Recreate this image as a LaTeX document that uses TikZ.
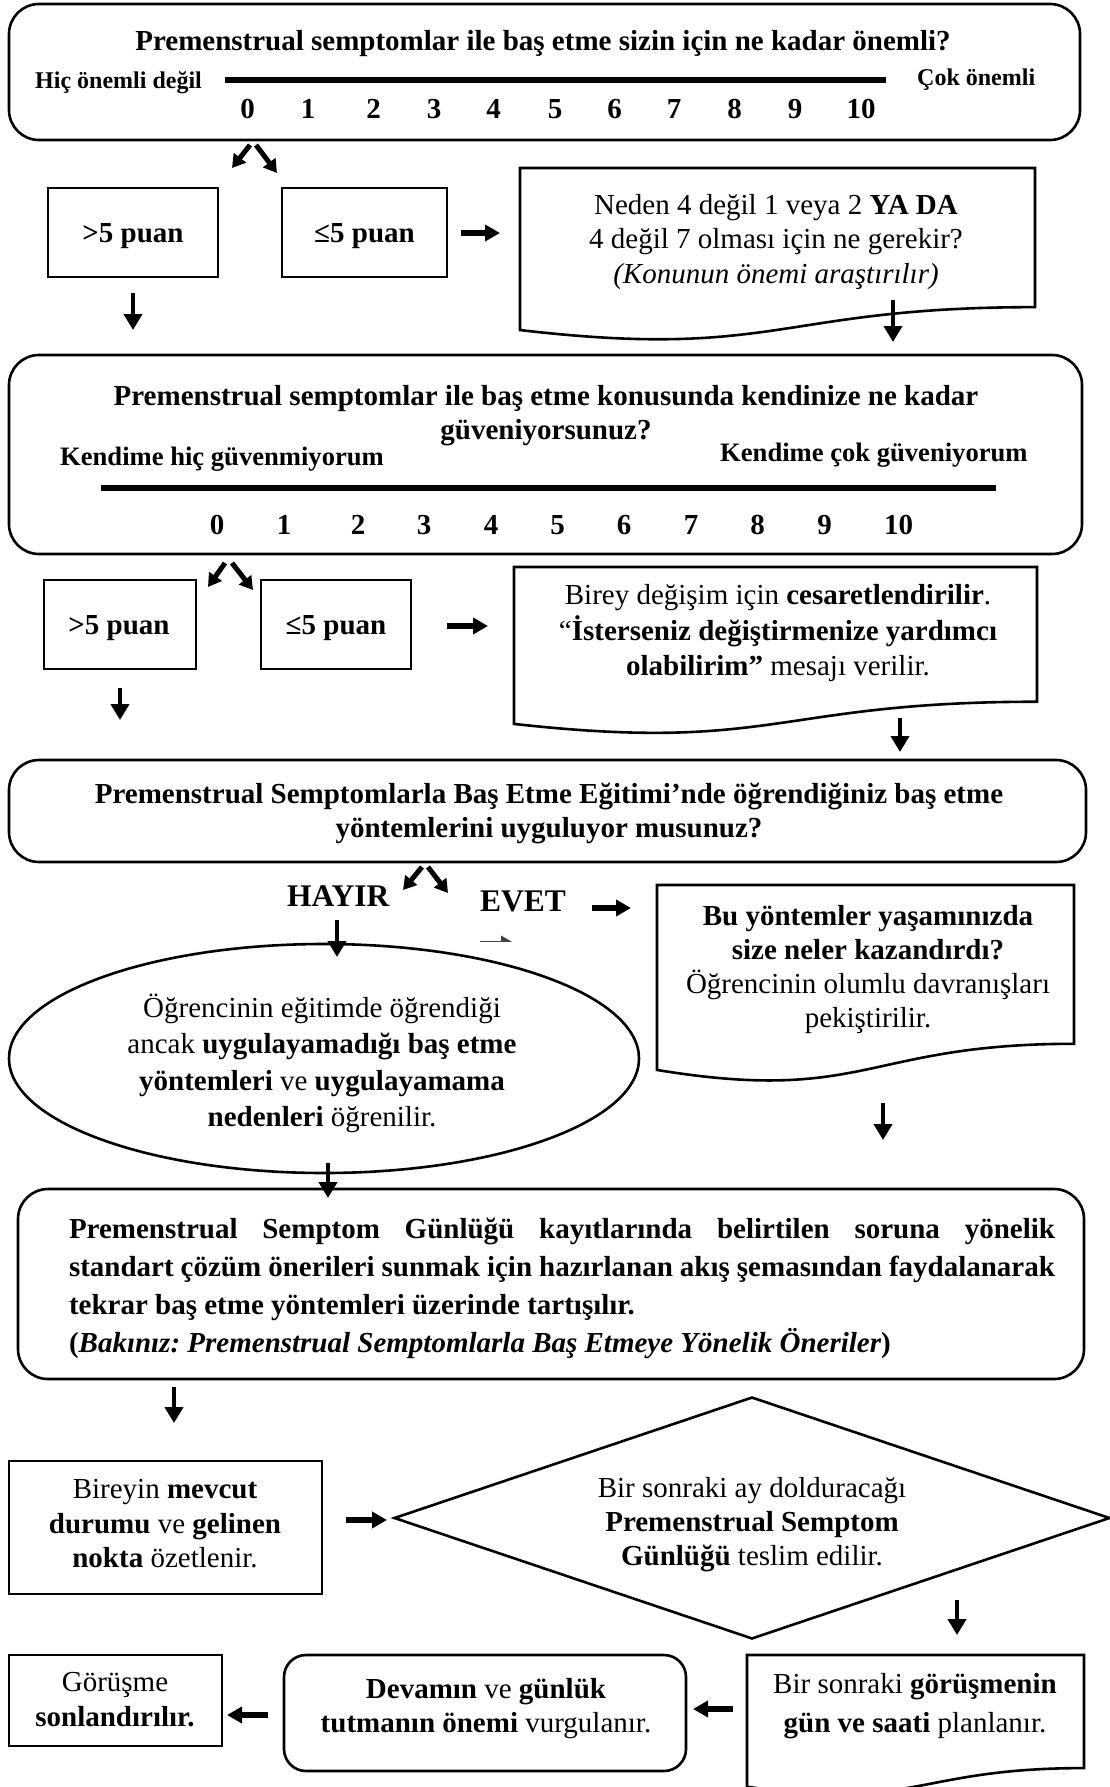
\documentclass[tikz,border=0pt]{standalone}
\usepackage{fontspec}
\setmainfont{Liberation Serif}
\usetikzlibrary{arrows.meta,shapes.geometric}

% flowchart "document" outline: left, right, top, height
\newcommand\docshape[4]{%
  \draw[docline] (#1,#3) -- (#2,#3) -- (#2,{#3+0.802*#4})
    .. controls ({(#1+#2)/2},{#3+0.802*#4}) and ({(#1+#2)/2},{#3+1.107*#4})
    .. (#1,{#3+0.934*#4}) -- cycle;}

% short free-standing arrow between two named coordinates
\newcommand\freearrow[4]{%
  \coordinate (#2-s) at #3; \coordinate (#2-e) at #4;
  \draw[#1] (#2-s) -- (#2-e);}

% interword spacing that can stretch for justified lines
\newcommand\justspacing{\frenchspacing\spaceskip=0.25em plus 1.5em minus 0.1em\relax}

\begin{document}
\begin{tikzpicture}[x=1pt, y=-1pt,
  txt/.style={inner sep=0pt, align=center, font=\fontsize{29}{#1}\selectfont},
  txt/.default=34.5,
  lbl/.style={inner sep=0pt, font=\fontsize{29}{34.5}\selectfont\bfseries},
  endlbl/.style={inner sep=0pt, font=\fontsize{#1}{30}\selectfont\bfseries},
  bigword/.style={inner sep=0pt, font=\fontsize{31.5}{36}\selectfont\bfseries},
  roundbox/.style={draw, line width=2.6pt, rounded corners=#1, inner sep=0pt},
  roundbox/.default=30pt,
  sqbox/.style={draw, line width=2.8pt, inner sep=0pt},
  docline/.style={line width=2.6pt, line join=miter},
  scaleline/.style={line width=6.5pt},
  harr/.style={line width=5.5pt, -{Triangle[length=15pt,width=16pt]}},
  varr/.style={line width=4.5pt, -{Triangle[length=16pt,width=18pt]}},
  darr/.style={line width=5pt, -{Triangle[length=13pt,width=15pt]}},
]
\useasboundingbox (0,0) rectangle (1110,1787);
\fill[white] (0,0) rectangle (1110,1787);
\clip (0,0) rectangle (1110,1787);

% ---------- importance scale ----------
\node[roundbox, minimum width=1071pt, minimum height=136pt] (q1) at (544.5,72) {};
\node[lbl, anchor=base] (q1t) at (543,51) {Premenstrual semptomlar ile baş etme sizin için ne kadar önemli?};
\node[endlbl=24, anchor=base west] (q1l) at (35,89) {Hiç önemli değil};
\node[endlbl=24, anchor=base west] (q1r) at (917,86) {Çok önemli};
\coordinate (s1a) at (225,80); \coordinate (s1b) at (886,80);
\draw[scaleline] (s1a) -- (s1b);
\foreach \v/\x in {0/247.5,1/308,2/373.5,3/434,4/493.5,5/555,6/614.5,7/674,8/734.5,9/795,10/861}
  \node[lbl, anchor=base] (sa\v) at (\x,119) {\v};

\node[sqbox, minimum width=170pt, minimum height=89pt] (a1) at (133,232.5) {};
\node[lbl, anchor=base] (a1t) at (133,243) {>5 puan};
\node[sqbox, minimum width=165pt, minimum height=89pt] (b1) at (364.5,232.5) {};
\node[lbl, anchor=base] (b1t) at (364.5,243) {≤5 puan};

\docshape{520}{1035}{168}{173.5}
\node[txt] (d1t) at (776,242) {\strut Neden 4 değil 1 veya 2 \textbf{YA DA}\\
  \strut 4 değil 7 olması için ne gerekir?\\
  \strut\textit{(Konunun önemi araştırılır)}};

% ---------- confidence scale ----------
\node[roundbox, minimum width=1073pt, minimum height=199pt] (q2) at (545.5,454.5) {};
\node[txt, font=\fontsize{29}{34.5}\selectfont\bfseries] (q2t) at (546,415.5)
  {\strut Premenstrual semptomlar ile baş etme konusunda kendinize ne kadar\\
   \strut güveniyorsunuz?};
\node[endlbl=26.6, anchor=base west] (q2l) at (60,465) {Kendime hiç güvenmiyorum};
\node[endlbl=26.6, anchor=base west] (q2r) at (720,461) {Kendime çok güveniyorum};
\coordinate (s2a) at (101,488); \coordinate (s2b) at (996,488);
\draw[scaleline] (s2a) -- (s2b);
\foreach \v/\x in {0/217,1/284,2/358,3/424,4/491,5/557.5,6/624,7/691,8/757.5,9/824.5,10/898.5}
  \node[lbl, anchor=base] (sb\v) at (\x,534) {\v};

\node[sqbox, minimum width=152pt, minimum height=89pt] (a2) at (120,624.5) {};
\node[lbl, anchor=base] (a2t) at (119,634) {>5 puan};
\node[sqbox, minimum width=150pt, minimum height=89pt] (b2) at (336,624.5) {};
\node[lbl, anchor=base] (b2t) at (336,634) {≤5 puan};

\docshape{514}{1037}{567}{168}
\node[txt] (d2t) at (778,633) {\strut Birey değişim için \textbf{cesaretlendirilir}.\\
  \strut “\textbf{İsterseniz değiştirmenize yardımcı}\\
  \strut\textbf{olabilirim”} mesajı verilir.};

% ---------- practice question ----------
\node[roundbox, minimum width=1077pt, minimum height=102pt] (q3) at (547.5,811) {};
\node[txt, font=\fontsize{29}{34}\selectfont\bfseries] (q3t) at (549,813.5)
  {\strut Premenstrual Semptomlarla Baş Etme Eğitimi’nde öğrendiğiniz baş etme\\
   \strut yöntemlerini uyguluyor musunuz?};
\node[bigword, anchor=base west] (no) at (287,906) {HAYIR};
\node[bigword, anchor=base west] (yes) at (480,911) {EVET};

% faint arrow fragment under EVET
\begin{scope}
  \clip (470,925) rectangle (530,941);
  \freearrow{black!75, line width=4pt, -{Triangle[length=13pt,width=14pt]}}{frag}{(480,943)}{(514,943)}
\end{scope}

\node[draw, ellipse, line width=2.6pt, minimum width=630pt, minimum height=229pt, inner sep=0pt] (ell) at (324,1058.5) {};
\node[txt=36.5] (ellt) at (322,1064.5) {\strut Öğrencinin eğitimde öğrendiği\\
  \strut ancak \textbf{uygulayamadığı baş etme}\\
  \strut\textbf{yöntemleri} ve \textbf{uygulayamama}\\
  \strut\textbf{nedenleri} öğrenilir.};

\docshape{657}{1074}{885}{198}
\node[txt=34] (d3t) at (868,969.5) {\strut\textbf{Bu yöntemler yaşamınızda}\\
  \strut\textbf{size neler kazandırdı?}\\
  \strut Öğrencinin olumlu davranışları\\
  \strut pekiştirilir.};

% ---------- discussion ----------
\node[roundbox, minimum width=1066pt, minimum height=190pt] (q4) at (551,1284) {};
\node[inner sep=0pt, text width=986pt, align=left,
      font=\fontsize{29}{38.2}\selectfont\bfseries] (q4t) at (562,1288)
  {\justspacing
   \makebox[986pt][s]{\strut Premenstrual Semptom Günlüğü kayıtlarında belirtilen soruna yönelik}\\
   \makebox[986pt][s]{\strut standart çözüm önerileri sunmak için hazırlanan akış şemasından faydalanarak}\\
   \strut tekrar baş etme yöntemleri üzerinde tartışılır.\\
   \strut(\textit{Bakınız: Premenstrual Semptomlarla Baş Etmeye Yönelik Öneriler})};

% ---------- closing steps ----------
\node[sqbox, minimum width=313pt, minimum height=133pt] (sum) at (165.5,1527.5) {};
\node[txt=34.5] (sumt) at (165,1526.5) {\strut Bireyin \textbf{mevcut}\\
  \strut\textbf{durumu} ve \textbf{gelinen}\\
  \strut\textbf{nokta} özetlenir.};

\node[draw, diamond, line width=2.6pt, minimum width=716pt, minimum height=242pt, inner sep=0pt] (dia) at (752,1518) {};
\node[txt=34] (diat) at (752,1524.5) {\strut Bir sonraki ay dolduracağı\\
  \strut\textbf{Premenstrual Semptom}\\
  \strut\textbf{Günlüğü} teslim edilir.};

\docshape{747}{1084}{1655}{141}
\node[txt=39] (d4t) at (915,1705.5) {\strut Bir sonraki \textbf{görüşmenin}\\
  \strut\textbf{gün ve saati} planlanır.};

\node[roundbox=22pt, minimum width=402pt, minimum height=116pt] (keep) at (485,1713) {};
\node[txt=34] (keept) at (486,1709) {\strut\textbf{Devamın} ve \textbf{günlük}\\
  \strut\textbf{tutmanın önemi} vurgulanır.};

\node[sqbox, minimum width=213pt, minimum height=91pt] (end) at (115.5,1700.5) {};
\node[txt=35] (endt) at (115,1702) {\strut Görüşme\\ \strut\textbf{sonlandırılır.}};

% ---------- connectors ----------
\freearrow{darr}{d1a}{(250,145)}{(232,168)}
\freearrow{darr}{d1b}{(256,145)}{(277,173)}
\freearrow{darr}{d2a}{(225,563)}{(208,587)}
\freearrow{darr}{d2b}{(232,563)}{(253,590)}
\freearrow{darr}{d3a}{(422,867)}{(403,890)}
\freearrow{darr}{d3b}{(428,867)}{(448,893)}

\freearrow{harr}{h1}{(461,233)}{(500,233)}
\freearrow{harr}{h2}{(447,626)}{(488,626)}
\freearrow{harr}{h3}{(592,908)}{(631,908)}
\freearrow{harr}{h4}{(346,1520)}{(387,1520)}
\freearrow{harr}{h5}{(733,1709)}{(693,1709)}
\freearrow{harr}{h6}{(268,1715)}{(227,1715)}

\freearrow{varr}{v1}{(133,293)}{(133,330)}
\freearrow{varr}{v2}{(893,300)}{(893,342)}
\freearrow{varr}{v3}{(120,688)}{(120,720)}
\freearrow{varr}{v4}{(900,718)}{(900,752)}
\freearrow{varr}{v5}{(337,920)}{(337,957)}
\freearrow{varr}{v6}{(883,1103)}{(883,1140)}
\freearrow{varr}{v7}{(328,1163)}{(328,1198)}
\freearrow{varr}{v8}{(174,1387)}{(174,1423)}
\freearrow{varr}{v9}{(957,1600)}{(957,1635)}
\end{tikzpicture}
\end{document}
